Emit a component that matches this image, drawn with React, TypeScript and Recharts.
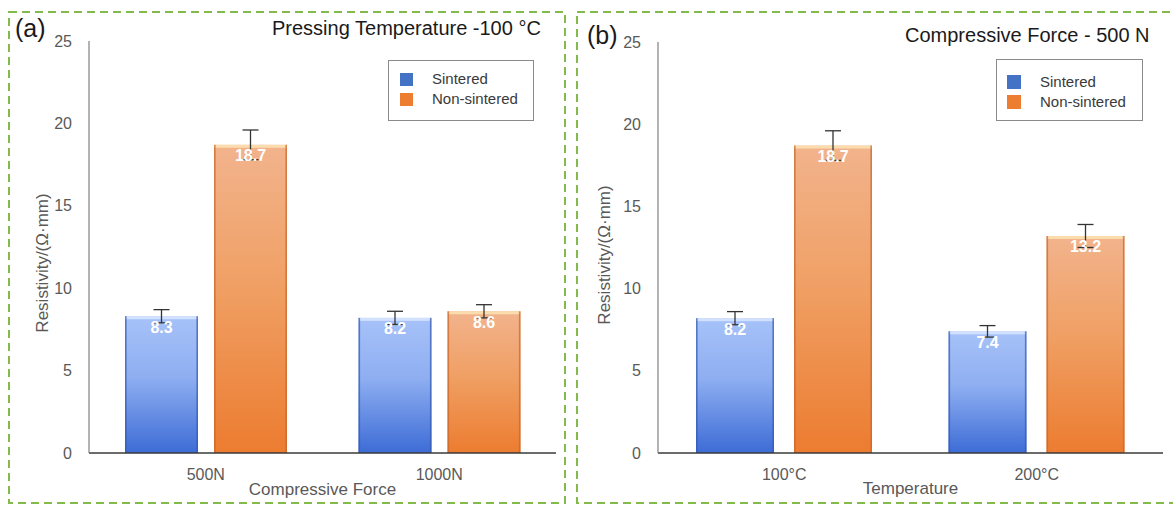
import React from 'react';
import { BarChart, Bar, XAxis, YAxis, ErrorBar, LabelList } from 'recharts';

// ---- data ----
const seriesNames = ['Sintered', 'Non-sintered'];
const seriesColors = ['#4472C4', '#ED7D31'];
const yTicks = [0, 5, 10, 15, 20, 25];

const categoriesA = ['500N', '1000N'];
const sinteredA = [8.3, 8.2];
const sinteredErrA = [0.4, 0.4];
const nonSinteredA = [18.7, 8.6];
const nonSinteredErrA = [0.9, 0.4];

const categoriesB = ['100°C', '200°C'];
const sinteredB = [8.2, 7.4];
const sinteredErrB = [0.4, 0.35];
const nonSinteredB = [18.7, 13.2];
const nonSinteredErrB = [0.9, 0.7];

const dataA = categoriesA.map((c, i) => ({
  cat: c, s: sinteredA[i], sErr: sinteredErrA[i], n: nonSinteredA[i], nErr: nonSinteredErrA[i],
}));
const dataB = categoriesB.map((c, i) => ({
  cat: c, s: sinteredB[i], sErr: sinteredErrB[i], n: nonSinteredB[i], nErr: nonSinteredErrB[i],
}));

const FONT = '"Liberation Sans", Arial, Helvetica, sans-serif';
const GREY = '#595959';

const GradBar = (props: any) => {
  const { x, y, width, height, kind } = props;
  if (height <= 0) return null;
  const blue = kind === 'blue';
  const grad = blue ? 'url(#gBlue)' : 'url(#gOrange)';
  const edge = blue ? '#3358B0' : '#C8652A';
  const hi = blue ? '#D6E4FF' : '#FBE0B0';
  return (
    <g>
      <rect x={x} y={y} width={width} height={height} fill={grad} />
      <rect x={x} y={y} width={width} height={3} fill={hi} opacity={0.9} />
      <rect x={x} y={y} width={1.6} height={height} fill={edge} opacity={0.7} />
      <rect x={x + width - 1.6} y={y} width={1.6} height={height} fill={edge} opacity={0.7} />
    </g>
  );
};

const Defs = () => (
  <defs>
    <linearGradient id="gBlue" x1="0" y1="0" x2="0" y2="1">
      <stop offset="0%" stopColor="#A7C2F9" />
      <stop offset="45%" stopColor="#8EAEF1" />
      <stop offset="100%" stopColor="#3D6CD6" />
    </linearGradient>
    <linearGradient id="gOrange" x1="0" y1="0" x2="0" y2="1">
      <stop offset="0%" stopColor="#F2B38C" />
      <stop offset="45%" stopColor="#F0A065" />
      <stop offset="100%" stopColor="#EC7C30" />
    </linearGradient>
  </defs>
);

type PanelProps = {
  data: any[];
  width: number;
  yAxisWidth: number;
  top: number;
  barSize: number;
  barGap: number;
  xTitle: string;
  xTitleOffset: number;
  yLabelX: number;
  yLabelY: number;
};

const Panel = ({ data, width, yAxisWidth, top, barSize, barGap, xTitle, xTitleOffset, yLabelX, yLabelY }: PanelProps) => (
  <BarChart
    width={width}
    height={506}
    data={data}
    margin={{ top, right: 10, bottom: 8, left: 0 }}
    barSize={barSize}
    barGap={barGap}
    style={{ fontFamily: FONT }}
  >
    <Defs />
    <XAxis
      dataKey="cat"
      height={45}
      tickSize={0}
      tickMargin={16}
      axisLine={{ stroke: '#3a3a3a', strokeWidth: 1.5 }}
      tickLine={false}
      tick={{ fill: GREY, fontSize: 16, fontFamily: FONT }}
      label={{ value: xTitle, position: 'insideBottom', offset: xTitleOffset, fill: GREY, fontSize: 17, fontFamily: FONT }}
    />
    <XAxis
      xAxisId="top"
      dataKey="cat"
      orientation="top"
      height={0}
      tick={false}
      tickLine={false}
      axisLine={{ stroke: '#808080', strokeWidth: 1.2 }}
    />
    <YAxis
      width={yAxisWidth}
      domain={[0, 25]}
      ticks={yTicks}
      interval={0}
      tickSize={0}
      tickMargin={17}
      tickLine={false}
      axisLine={{ stroke: '#808080', strokeWidth: 1.2 }}
      tick={{ fill: GREY, fontSize: 16, fontFamily: FONT }}
      label={{
        content: () => (
          <text
            x={yLabelX}
            y={yLabelY}
            transform={`rotate(-90 ${yLabelX} ${yLabelY})`}
            textAnchor="middle"
            dominantBaseline="central"
            fill={GREY}
            fontSize={17}
            fontFamily={FONT}
          >
            Resistivity/(Ω·mm)
          </text>
        ),
      }}
    />
    <YAxis
      yAxisId="right"
      orientation="right"
      width={0}
      domain={[0, 25]}
      tick={false}
      tickLine={false}
      axisLine={{ stroke: '#808080', strokeWidth: 1.2 }}
    />
    <Bar dataKey="s" name={seriesNames[0]} fill={seriesColors[0]} isAnimationActive={false} shape={(p: any) => <GradBar {...p} kind="blue" />}>
      <LabelList dataKey="s" position="insideTop" offset={5} fill="#ffffff" fontSize={16} fontWeight={700} fontFamily={FONT} />
      <ErrorBar dataKey="sErr" width={8} stroke="#333333" strokeWidth={1.3} direction="y" />
    </Bar>
    <Bar dataKey="n" name={seriesNames[1]} fill={seriesColors[1]} isAnimationActive={false} shape={(p: any) => <GradBar {...p} kind="orange" />}>
      <LabelList dataKey="n" position="insideTop" offset={5} fill="#ffffff" fontSize={16} fontWeight={700} fontFamily={FONT} />
      <ErrorBar dataKey="nErr" width={8} stroke="#333333" strokeWidth={1.3} direction="y" />
    </Bar>
  </BarChart>
);

const LegendBox = ({ left, top, w, h, sw, textX, rowY }: any) => (
  <div style={{ position: 'absolute', left, top, width: w, height: h, border: '1px solid #8a8a8a', boxSizing: 'border-box', background: '#fff' }}>
    {seriesNames.map((name, i) => (
      <React.Fragment key={name}>
        <div style={{ position: 'absolute', left: sw.x, top: rowY[i] - sw.s / 2, width: sw.s, height: sw.s, background: seriesColors[i] }} />
        <div style={{ position: 'absolute', left: textX, top: rowY[i] - 9, lineHeight: '18px', fontSize: 15, color: '#3a3a3a', fontFamily: FONT, whiteSpace: 'nowrap' }}>{name}</div>
      </React.Fragment>
    ))}
  </div>
);

const Txt = ({ left, cy, size, children, color = '#1a1a1a' }: any) => (
  <div style={{ position: 'absolute', left, top: cy - size / 2, lineHeight: `${size}px`, fontSize: size, color, fontFamily: FONT, whiteSpace: 'nowrap' }}>{children}</div>
);

export default function App() {
  return (
    <div style={{ position: 'relative', width: 1173, height: 506, background: '#fff', overflow: 'hidden' }}>
      <style>{`body{margin:0;background:#fff;}`}</style>
      <svg width={1173} height={506} style={{ position: 'absolute', left: 0, top: 0 }}>
        <rect x={9} y={12} width={556} height={491} fill="none" stroke="#84B94C" strokeWidth={2} strokeDasharray="8 5" />
        <rect x={577} y={12} width={620} height={491} fill="none" stroke="#84B94C" strokeWidth={2} strokeDasharray="8 5" />
      </svg>
      <div style={{ position: 'absolute', left: 0, top: 0 }}>
        <Panel data={dataA} width={566} yAxisWidth={89} top={41} barSize={73} barGap={16}
          xTitle="Compressive Force" xTitleOffset={3} yLabelX={42} yLabelY={263} />
      </div>
      <div style={{ position: 'absolute', left: 577, top: 0 }}>
        <Panel data={dataB} width={596} yAxisWidth={81} top={42} barSize={78} barGap={20}
          xTitle="Temperature" xTitleOffset={4} yLabelX={27} yLabelY={255} />
      </div>
      <LegendBox left={388} top={60} w={146} h={61} sw={{ x: 11, s: 13 }} textX={43} rowY={[18, 38]} />
      <LegendBox left={996} top={59} w={147} h={62} sw={{ x: 10, s: 14 }} textX={43} rowY={[22, 42]} />
      <Txt left={15} cy={28} size={25}>(a)</Txt>
      <Txt left={272} cy={28} size={20}>Pressing Temperature -100 °C</Txt>
      <Txt left={587} cy={35} size={25}>(b)</Txt>
      <Txt left={905} cy={35} size={20}>Compressive Force - 500 N</Txt>
    </div>
  );
}
